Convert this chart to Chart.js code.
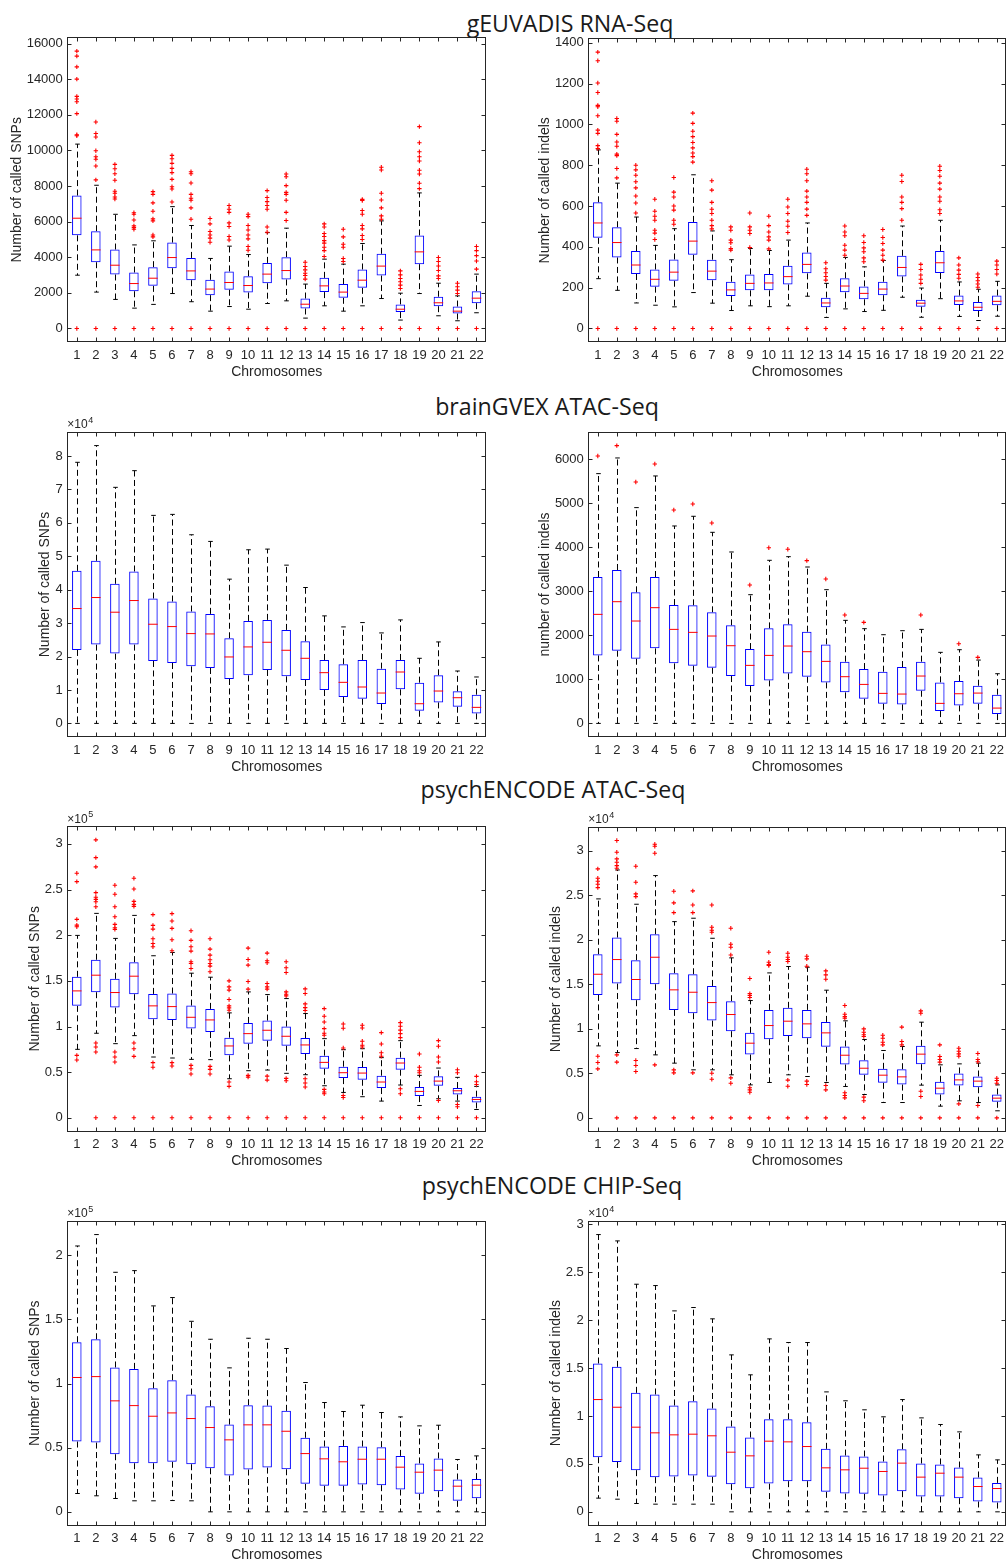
<!DOCTYPE html>
<html>
<head>
<meta charset="utf-8">
<script src="https://cdn.jsdelivr.net/npm/chart.js@4.4.1/dist/chart.umd.min.js"></script>
<style>
    html, body { margin: 0; padding: 0; background: #fff; overflow: hidden; }
    body { position: relative; width: 1006px; height: 1563px; }
    canvas { position: absolute; }
    .row-title {
        position: absolute;
        font-family: 'Open Sans', 'Noto Sans', sans-serif;
        font-size: 23.2px;
        line-height: 23.2px;
        color: #1a1a1a;
        white-space: nowrap;
        transform: translateX(-50%);
    }
</style>
</head>
<body>
<div class="row-title" style="left:570px;top:12px">gEUVADIS RNA-Seq</div>
<div class="row-title" style="left:547px;top:395px">brainGVEX ATAC-Seq</div>
<div class="row-title" style="left:553px;top:777.5px">psychENCODE ATAC-Seq</div>
<div class="row-title" style="left:552px;top:1173.5px">psychENCODE CHIP-Seq</div>

<script>
const CHROMOSOMES = ['1', '2', '3', '4', '5', '6', '7', '8', '9', '10', '11',
    '12', '13', '14', '15', '16', '17', '18', '19', '20', '21', '22'];

// gEUVADIS RNA-Seq, SNPs
const GEU_SNP_LOW = [2990, 2040, 1630, 1140, 1350, 1960, 1500, 970, 1230, 1080, 1400, 1550, 580, 1270, 970, 1270, 1680, 470, 1960, 710, 430, 880];
const GEU_SNP_Q1 = [5230, 3720, 3030, 2090, 2390, 3380, 2710, 1870, 2170, 2020, 2540, 2750, 1120, 2040, 1720, 2280, 2970, 920, 3610, 1250, 840, 1420];
const GEU_SNP_MED = [6190, 4410, 3550, 2520, 2820, 3980, 3230, 2210, 2580, 2410, 3050, 3250, 1360, 2390, 2040, 2710, 3500, 1080, 4300, 1440, 970, 1700];
const GEU_SNP_Q3 = [7460, 5460, 4430, 3140, 3440, 4820, 3960, 2730, 3200, 2930, 3680, 4000, 1680, 2840, 2490, 3310, 4190, 1350, 5220, 1780, 1230, 2090];
const GEU_SNP_HIGH = [10350, 8040, 6410, 4690, 4920, 6840, 5780, 3930, 4620, 4150, 5380, 5630, 2490, 3890, 3610, 4770, 6040, 1980, 7610, 2540, 1830, 3050];
const GEU_SNP_OUT = [
    [15570, 15290, 14690, 14000, 13030, 12880, 12730, 12060, 10880, 10820, 0],
    [11590, 10950, 10750, 9980, 9640, 9500, 9120, 8340, 0],
    [9210, 8970, 8690, 8320, 7700, 7590, 7380, 7270, 0],
    [6500, 6410, 6090, 5760, 5660, 5570, 0],
    [7680, 7530, 7050, 6580, 6150, 6040, 5250, 5140, 0],
    [9720, 9530, 9270, 8990, 8750, 8370, 7960, 7830, 7100, 0],
    [8800, 8690, 8170, 7530, 7310, 7200, 6770, 6130, 0],
    [6170, 5870, 5440, 5250, 5070, 4840, 0],
    [6900, 6690, 6520, 5930, 5720, 5160, 4970, 0],
    [6410, 6280, 5780, 5530, 5250, 5030, 4600, 4390, 0],
    [7740, 7350, 7120, 6900, 6690, 5700, 5400, 0],
    [8670, 8520, 8020, 7640, 7530, 7200, 6520, 6060, 0],
    [3720, 3480, 3290, 3100, 2970, 2770, 0],
    [5870, 5700, 5330, 5160, 4930, 4790, 4560, 4370, 4040, 0],
    [5570, 5140, 4730, 4560, 3930, 3760, 0],
    [7250, 7180, 6620, 6410, 5780, 5590, 5220, 4990, 0],
    [9050, 8900, 7590, 7210, 6770, 6320, 6130, 0],
    [3230, 3010, 2800, 2620, 2430, 2240, 0],
    [11330, 10430, 9920, 9640, 9400, 8880, 8670, 8150, 7850, 0],
    [3980, 3760, 3510, 3250, 2950, 2800, 0],
    [2540, 2340, 2150, 1960, 0],
    [4600, 4370, 4090, 3790, 3330, 0]
];
const GEU_SNP_TICKS = [0, 2000, 4000, 6000, 8000, 10000, 12000, 14000, 16000];
const GEU_SNP_TICK_LABELS = ['0', '2000', '4000', '6000', '8000', '10000', '12000', '14000', '16000'];

// gEUVADIS RNA-Seq, indels
const GEU_INDEL_LOW = [244, 187, 125, 114, 106, 176, 124, 88, 111, 107, 111, 158, 54, 96, 83, 89, 153, 55, 146, 59, 39, 60];
const GEU_INDEL_Q1 = [444, 348, 267, 205, 234, 361, 236, 159, 187, 187, 216, 270, 104, 177, 143, 163, 255, 107, 272, 115, 86, 114];
const GEU_INDEL_MED = [517, 421, 311, 241, 276, 428, 281, 189, 221, 223, 254, 314, 125, 208, 172, 193, 299, 124, 322, 135, 104, 133];
const GEU_INDEL_Q3 = [618, 496, 379, 289, 338, 522, 337, 229, 265, 267, 307, 372, 151, 246, 206, 229, 356, 141, 380, 161, 130, 161];
const GEU_INDEL_HIGH = [875, 712, 546, 407, 489, 753, 478, 337, 392, 382, 433, 517, 221, 348, 302, 333, 502, 198, 530, 228, 192, 231];
const GEU_INDEL_OUT = [
    [1354, 1312, 1203, 1156, 1093, 1086, 1042, 972, 956, 896, 881, 0],
    [1029, 1015, 951, 914, 893, 854, 847, 784, 738, 0],
    [800, 777, 751, 719, 689, 649, 615, 566, 0],
    [633, 574, 550, 530, 481, 467, 436, 0],
    [740, 668, 644, 600, 580, 530, 511, 0],
    [1055, 1005, 966, 940, 911, 885, 860, 842, 815, 0],
    [724, 678, 618, 584, 563, 530, 504, 488, 0],
    [498, 481, 433, 420, 392, 384, 0],
    [566, 498, 481, 465, 397, 0],
    [550, 504, 473, 449, 433, 390, 0],
    [633, 595, 563, 525, 501, 470, 0],
    [780, 758, 724, 673, 644, 618, 585, 554, 0],
    [322, 293, 273, 255, 237, 0],
    [502, 473, 454, 408, 384, 359, 0],
    [454, 421, 395, 376, 346, 327, 0],
    [485, 446, 416, 384, 359, 335, 0],
    [751, 720, 644, 618, 587, 530, 0],
    [314, 289, 262, 241, 221, 0],
    [795, 774, 746, 712, 683, 644, 623, 582, 563, 0],
    [346, 311, 286, 265, 246, 0],
    [267, 250, 234, 218, 202, 0],
    [330, 311, 289, 267, 0]
];
const GEU_INDEL_TICKS = [0, 200, 400, 600, 800, 1000, 1200, 1400];
const GEU_INDEL_TICK_LABELS = ['0', '200', '400', '600', '800', '1000', '1200', '1400'];

// brainGVEX ATAC-Seq, SNPs
const BRAIN_SNP_LOW = [0, 0, 0, 0, 0, 0, 0, 0, 0, 0, 0, 0, 0, 0, 0, 0, 0, 0, 0, 0, 0, 0];
const BRAIN_SNP_Q1 = [21980, 23580, 20880, 23580, 18680, 18080, 17080, 16580, 13290, 14390, 15980, 14090, 12990, 9990, 7890, 7390, 5790, 10190, 3800, 6290, 4990, 3000];
const BRAIN_SNP_MED = [34370, 37660, 33270, 36760, 29670, 28970, 26870, 26770, 19880, 22880, 24280, 21880, 19480, 15180, 12290, 10890, 9090, 15380, 5890, 9690, 7690, 4800];
const BRAIN_SNP_Q3 = [45650, 48650, 41760, 45450, 37360, 36460, 33470, 32770, 25470, 30670, 30970, 27970, 24580, 18980, 17680, 18980, 16380, 18980, 12190, 14390, 9590, 8590];
const BRAIN_SNP_HIGH = [78120, 83120, 70630, 75620, 62240, 62540, 56440, 54450, 43160, 51950, 52150, 47350, 40660, 32170, 28870, 30170, 27070, 30970, 19480, 24380, 15680, 13890];
const BRAIN_SNP_OUT = [[], [], [], [], [], [], [], [], [], [], [], [], [], [], [], [], [], [], [], [], [], []];
const BRAIN_SNP_TICKS = [0, 10000, 20000, 30000, 40000, 50000, 60000, 70000, 80000];
const BRAIN_SNP_TICK_LABELS = ['0', '1', '2', '3', '4', '5', '6', '7', '8'];

// brainGVEX ATAC-Seq, indels
const BRAIN_INDEL_LOW = [0, 0, 0, 0, 0, 0, 0, 0, 0, 0, 0, 0, 0, 0, 0, 0, 0, 0, 0, 0, 0, 0];
const BRAIN_INDEL_Q1 = [1545, 1652, 1470, 1705, 1364, 1311, 1265, 1076, 848, 977, 1136, 1061, 932, 705, 561, 447, 432, 742, 280, 409, 447, 212];
const BRAIN_INDEL_MED = [2477, 2765, 2326, 2629, 2136, 2068, 1985, 1765, 1318, 1545, 1758, 1629, 1409, 1061, 886, 682, 667, 1076, 455, 674, 689, 348];
const BRAIN_INDEL_Q3 = [3326, 3485, 2977, 3326, 2689, 2682, 2523, 2227, 1689, 2159, 2250, 2083, 1795, 1402, 1235, 1174, 1280, 1402, 932, 962, 856, 652];
const BRAIN_INDEL_HIGH = [5674, 6030, 4902, 5621, 4485, 4705, 4341, 3894, 2924, 3705, 3788, 3553, 3038, 2341, 2152, 2015, 2106, 2136, 1614, 1674, 1439, 1129];
const BRAIN_INDEL_OUT = [[6076], [6311], [5485], [5894], [4849], [4985], [4553], [], [3144], [3992], [3955], [3697], [3280], [2462], [2295], [], [], [2462], [], [1811], [1500], []];
const BRAIN_INDEL_TICKS = [0, 1000, 2000, 3000, 4000, 5000, 6000];
const BRAIN_INDEL_TICK_LABELS = ['0', '1000', '2000', '3000', '4000', '5000', '6000'];

// psychENCODE ATAC-Seq, SNPs
const PE_ATAC_SNP_LOW = [75000, 92600, 81200, 90000, 66600, 65500, 64000, 63700, 42800, 51600, 52300, 48700, 47200, 35100, 27800, 23100, 18300, 35900, 13500, 20900, 18300, 9100];
const PE_ATAC_SNP_Q1 = [122600, 137600, 120700, 135400, 107900, 107200, 97700, 94000, 68400, 81200, 84500, 79000, 69900, 53800, 43500, 41700, 32600, 52700, 23800, 35100, 25600, 16800];
const PE_ATAC_SNP_MED = [139000, 156200, 137200, 155100, 122600, 121800, 110100, 107200, 78700, 92200, 95900, 89300, 79800, 60700, 49400, 49000, 39200, 60000, 28900, 40200, 29600, 20100];
const PE_ATAC_SNP_Q3 = [154400, 173100, 152200, 170500, 135700, 136100, 122900, 119300, 87800, 103900, 106500, 99900, 87400, 68100, 56000, 55600, 46100, 65900, 33700, 45400, 32600, 23100];
const PE_ATAC_SNP_HIGH = [199800, 223900, 196500, 221700, 177500, 181100, 158400, 154000, 114900, 137900, 135000, 130600, 114200, 86700, 74600, 75700, 65900, 84500, 46500, 54500, 44300, 34400];
const PE_ATAC_SNP_OUT = [
    [267800, 258700, 217300, 211100, 209300, 68400, 63300],
    [304400, 285000, 274800, 246600, 241500, 239300, 236700, 231200, 82000, 77600, 72100, 0],
    [254700, 244800, 231200, 220300, 211900, 208200, 206400, 72100, 66600, 61100, 0],
    [262400, 250600, 237100, 233800, 231600, 82000, 75700, 67300, 0],
    [222500, 210800, 206700, 196100, 191000, 187300, 60400, 55300, 0],
    [223600, 215500, 207500, 195000, 183000, 60400, 56700, 0],
    [204900, 194300, 187300, 182600, 170900, 169000, 163600, 57400, 53800, 48000, 0],
    [196100, 184800, 178200, 173100, 169000, 166100, 159900, 56300, 53100, 48000, 0],
    [150000, 143400, 139800, 129500, 122600, 120400, 117800, 39200, 34400, 0],
    [185900, 173400, 167200, 149300, 140900, 46500, 44600, 0],
    [180400, 172000, 169800, 147100, 143400, 140900, 45700, 41300, 0],
    [170900, 164300, 159200, 137900, 135400, 133600, 43200, 40600, 0],
    [141200, 136100, 124800, 120700, 117500, 42800, 38100, 33700, 0],
    [119600, 111200, 105000, 97700, 92600, 90400, 31100, 28200, 26300, 0],
    [102800, 98100, 76500, 24500, 22300, 0],
    [101400, 98400, 83800, 79400, 77600, 0],
    [93300, 80900, 71300, 67500, 0],
    [104300, 100300, 96000, 92200, 87800, 31800, 26300, 0],
    [69900, 55300, 51600, 49400, 0],
    [84500, 78300, 66600, 61100, 19000, 0],
    [52700, 49400, 14600, 12100, 0],
    [45400, 39500, 36500, 0]
];
const PE_ATAC_SNP_TICKS = [0, 50000, 100000, 150000, 200000, 250000, 300000];
const PE_ATAC_SNP_TICK_LABELS = ['0', '0.5', '1', '1.5', '2', '2.5', '3'];

// psychENCODE ATAC-Seq, indels
const PE_ATAC_INDEL_LOW = [8080, 7330, 7780, 7070, 6140, 5390, 5390, 4830, 3700, 3970, 4830, 4640, 3970, 3520, 2620, 1720, 1720, 3670, 1310, 1910, 1720, 790];
const PE_ATAC_INDEL_Q1 = [13800, 15080, 13210, 15000, 12120, 11750, 10920, 9730, 7110, 8830, 9200, 8940, 7970, 5990, 4830, 3930, 3740, 6020, 2620, 3630, 3440, 1800];
const PE_ATAC_INDEL_MED = [16120, 17770, 15530, 18030, 14370, 14100, 12940, 11600, 8380, 10360, 10850, 10550, 9540, 7030, 5570, 4790, 4600, 7150, 3330, 4260, 4120, 2210];
const PE_ATAC_INDEL_Q3 = [18370, 20240, 17700, 20610, 16240, 16120, 14810, 13090, 9540, 12120, 12350, 12120, 10770, 8010, 6470, 5500, 5460, 8080, 4040, 4980, 4640, 2620];
const PE_ATAC_INDEL_HIGH = [24580, 27830, 23980, 27200, 22030, 22410, 20160, 17960, 13170, 16270, 16990, 16910, 14330, 10890, 8790, 7560, 8010, 10740, 5950, 6060, 6140, 3700];
const PE_ATAC_INDEL_OUT = [
    [27950, 26900, 26560, 26220, 25850, 6920, 6210, 5500],
    [31130, 29820, 29070, 28690, 28320, 28020, 7070, 6250, 0],
    [28250, 26450, 25140, 24840, 6430, 5870, 5200, 0],
    [30710, 30490, 29700, 5950, 0],
    [25440, 24130, 23040, 5390, 5050, 0],
    [25480, 23900, 23040, 5050, 0],
    [23900, 21400, 21060, 20840, 5010, 4340, 0],
    [21290, 19490, 19150, 18290, 4490, 3890, 0],
    [15640, 13950, 13730, 13510, 3370, 3140, 2880, 0],
    [18590, 17470, 17210, 17100, 0],
    [18480, 18030, 17770, 17550, 4230, 3550, 0],
    [18140, 17850, 17020, 4120, 3740, 0],
    [16500, 16050, 15560, 3630, 3140, 0],
    [12610, 11630, 11370, 11190, 2810, 2510, 2240, 0],
    [9990, 9610, 9320, 9130, 2320, 1910, 0],
    [9280, 8940, 8490, 8190, 0],
    [10180, 8570, 8190, 0],
    [12010, 11750, 2990, 2390, 0],
    [8190, 6880, 6550, 6250, 0],
    [7820, 7480, 7180, 6920, 1570, 0],
    [7220, 6550, 6290, 1380, 0],
    [4450, 4190, 3890, 0]
];
const PE_ATAC_INDEL_TICKS = [0, 5000, 10000, 15000, 20000, 25000, 30000];
const PE_ATAC_INDEL_TICK_LABELS = ['0', '0.5', '1', '1.5', '2', '2.5', '3'];

// psychENCODE CHIP-Seq, SNPs
const PE_CHIP_SNP_LOW = [14300, 12500, 10400, 8600, 8600, 8800, 8600, 0, 0, 0, 0, 0, 0, 0, 0, 0, 0, 0, 0, 0, 0, 0];
const PE_CHIP_SNP_Q1 = [54800, 54000, 44900, 37900, 37900, 39000, 37100, 34000, 28300, 33000, 34500, 33200, 21800, 20300, 20300, 21300, 20800, 17400, 14000, 16100, 8600, 10600];
const PE_CHIP_SNP_MED = [104700, 105400, 86500, 82800, 74500, 77100, 72700, 65700, 56100, 67800, 67800, 62800, 45400, 41300, 39000, 41000, 41000, 34800, 30900, 32500, 20000, 20800];
const PE_CHIP_SNP_Q3 = [132200, 134500, 112500, 111400, 96300, 102600, 91400, 82300, 68000, 83100, 82800, 78700, 57700, 50900, 51400, 50900, 50400, 43600, 37700, 41600, 25200, 25500];
const PE_CHIP_SNP_HIGH = [207200, 216100, 186700, 188000, 160500, 167000, 148500, 134500, 112200, 135300, 134500, 127300, 100800, 85200, 78200, 83100, 77400, 74000, 67000, 67500, 40800, 43600];
const PE_CHIP_SNP_OUT = [[], [], [], [], [], [], [], [], [], [], [], [], [], [], [], [], [], [], [], [], [], []];
const PE_CHIP_SNP_TICKS = [0, 50000, 100000, 150000, 200000];
const PE_CHIP_SNP_TICK_LABELS = ['0', '0.5', '1', '1.5', '2'];

// psychENCODE CHIP-Seq, indels
const PE_CHIP_INDEL_LOW = [1430, 1320, 870, 800, 800, 800, 800, 0, 0, 0, 0, 0, 0, 0, 0, 0, 0, 0, 0, 0, 0, 0];
const PE_CHIP_INDEL_Q1 = [5700, 5210, 4350, 3620, 3680, 3790, 3650, 2890, 2470, 2950, 3200, 3200, 2090, 1910, 1880, 1700, 2160, 1600, 1600, 1430, 1080, 970];
const PE_CHIP_INDEL_MED = [11710, 10910, 8830, 8240, 8030, 8100, 7930, 6220, 5840, 7370, 7300, 6810, 4590, 4380, 4550, 4210, 5080, 3620, 4030, 3620, 2640, 2430];
const PE_CHIP_INDEL_Q3 = [15470, 15120, 12410, 12240, 11090, 11540, 10780, 8900, 7750, 9660, 9660, 9350, 6570, 5870, 5770, 5250, 6530, 5040, 4940, 4620, 3580, 3020];
const PE_CHIP_INDEL_HIGH = [28920, 28260, 23740, 23600, 20960, 21310, 20130, 16370, 14290, 18040, 17660, 17660, 12510, 11580, 10640, 9910, 11710, 9800, 9110, 8340, 5940, 5420];
const PE_CHIP_INDEL_OUT = [[], [], [], [], [], [], [], [], [], [], [], [], [], [], [], [], [], [], [], [], [], []];
const PE_CHIP_INDEL_TICKS = [0, 5000, 10000, 15000, 20000, 25000, 30000];
const PE_CHIP_INDEL_TICK_LABELS = ['0', '0.5', '1', '1.5', '2', '2.5', '3'];


const FONT = "'Liberation Sans', Arial, Helvetica, sans-serif";
const AXIS_COLOR = '#262626';

// one entry per subplot: data arrays + where its axes box sits on the page
const PANELS = [
    {low: GEU_SNP_LOW, q1: GEU_SNP_Q1, med: GEU_SNP_MED, q3: GEU_SNP_Q3, high: GEU_SNP_HIGH, out: GEU_SNP_OUT,
     ticks: GEU_SNP_TICKS, tickLabels: GEU_SNP_TICK_LABELS, exponent: null,
     yTitle: 'Number of called SNPs', titleX: 17.3, canvasX: 0, area: [67.3, 37.3, 486, 342.3]},
    {low: GEU_INDEL_LOW, q1: GEU_INDEL_Q1, med: GEU_INDEL_MED, q3: GEU_INDEL_Q3, high: GEU_INDEL_HIGH, out: GEU_INDEL_OUT,
     ticks: GEU_INDEL_TICKS, tickLabels: GEU_INDEL_TICK_LABELS, exponent: null,
     yTitle: 'Number of called indels', titleX: 545.3, canvasX: 500, area: [588.3, 38.3, 1006.3, 342.3]},
    {low: BRAIN_SNP_LOW, q1: BRAIN_SNP_Q1, med: BRAIN_SNP_MED, q3: BRAIN_SNP_Q3, high: BRAIN_SNP_HIGH, out: BRAIN_SNP_OUT,
     ticks: BRAIN_SNP_TICKS, tickLabels: BRAIN_SNP_TICK_LABELS, exponent: '4',
     yTitle: 'Number of called SNPs', titleX: 45, canvasX: 0, area: [67.3, 431.7, 486, 737.3]},
    {low: BRAIN_INDEL_LOW, q1: BRAIN_INDEL_Q1, med: BRAIN_INDEL_MED, q3: BRAIN_INDEL_Q3, high: BRAIN_INDEL_HIGH, out: BRAIN_INDEL_OUT,
     ticks: BRAIN_INDEL_TICKS, tickLabels: BRAIN_INDEL_TICK_LABELS, exponent: null,
     yTitle: 'number of called indels', titleX: 545.3, canvasX: 500, area: [588.3, 431.7, 1006.3, 737.3]},
    {low: PE_ATAC_SNP_LOW, q1: PE_ATAC_SNP_Q1, med: PE_ATAC_SNP_MED, q3: PE_ATAC_SNP_Q3, high: PE_ATAC_SNP_HIGH, out: PE_ATAC_SNP_OUT,
     ticks: PE_ATAC_SNP_TICKS, tickLabels: PE_ATAC_SNP_TICK_LABELS, exponent: '5',
     yTitle: 'Number of called SNPs', titleX: 35, canvasX: 0, area: [67.3, 826, 486, 1131.7]},
    {low: PE_ATAC_INDEL_LOW, q1: PE_ATAC_INDEL_Q1, med: PE_ATAC_INDEL_MED, q3: PE_ATAC_INDEL_Q3, high: PE_ATAC_INDEL_HIGH, out: PE_ATAC_INDEL_OUT,
     ticks: PE_ATAC_INDEL_TICKS, tickLabels: PE_ATAC_INDEL_TICK_LABELS, exponent: '4',
     yTitle: 'Number of called indels', titleX: 556, canvasX: 500, area: [588.3, 826.7, 1006.3, 1131.7]},
    {low: PE_CHIP_SNP_LOW, q1: PE_CHIP_SNP_Q1, med: PE_CHIP_SNP_MED, q3: PE_CHIP_SNP_Q3, high: PE_CHIP_SNP_HIGH, out: PE_CHIP_SNP_OUT,
     ticks: PE_CHIP_SNP_TICKS, tickLabels: PE_CHIP_SNP_TICK_LABELS, exponent: '5',
     yTitle: 'Number of called SNPs', titleX: 35, canvasX: 0, area: [67.3, 1220.7, 486, 1525.7]},
    {low: PE_CHIP_INDEL_LOW, q1: PE_CHIP_INDEL_Q1, med: PE_CHIP_INDEL_MED, q3: PE_CHIP_INDEL_Q3, high: PE_CHIP_INDEL_HIGH, out: PE_CHIP_INDEL_OUT,
     ticks: PE_CHIP_INDEL_TICKS, tickLabels: PE_CHIP_INDEL_TICK_LABELS, exponent: '4',
     yTitle: 'Number of called indels', titleX: 556, canvasX: 500, area: [588.3, 1220.7, 1006.3, 1525.7]}
];


function strokeLine(ctx, x1, y1, x2, y2) {
    ctx.beginPath();
    ctx.moveTo(x1, y1);
    ctx.lineTo(x2, y2);
    ctx.stroke();
}

// whiskers, medians, axes box with inward ticks, x10^n label
function boxplotParts(p) {
    return {
        id: 'boxplotParts',
        beforeDatasetsDraw(chart) {
            const {ctx, scales: {x, y}} = chart;
            const step = x.getPixelForValue(1) - x.getPixelForValue(0);
            const capHalf = step * 0.12;
            ctx.save();
            ctx.strokeStyle = '#000';
            ctx.lineWidth = 1;
            p.high.forEach((hi, i) => {
                const px = Math.round(x.getPixelForValue(i)) + 0.5;
                const yHi = y.getPixelForValue(hi);
                const yLo = y.getPixelForValue(p.low[i]);
                ctx.setLineDash([6, 3.5]);
                strokeLine(ctx, px, y.getPixelForValue(p.q3[i]), px, yHi);
                strokeLine(ctx, px, y.getPixelForValue(p.q1[i]), px, yLo);
                ctx.setLineDash([]);
                strokeLine(ctx, px - capHalf, yHi, px + capHalf, yHi);
                strokeLine(ctx, px - capHalf, yLo, px + capHalf, yLo);
            });
            ctx.restore();
        },
        afterDatasetsDraw(chart) {
            const {ctx, chartArea: a, scales: {x, y}} = chart;
            const step = x.getPixelForValue(1) - x.getPixelForValue(0);
            ctx.save();
            // medians
            ctx.strokeStyle = '#ff0000';
            ctx.lineWidth = 1;
            p.med.forEach((m, i) => {
                const px = x.getPixelForValue(i);
                const py = y.getPixelForValue(m);
                strokeLine(ctx, px - step * 0.25, py, px + step * 0.25, py);
            });
            // axes box
            const l = Math.round(a.left) + 0.5, r = Math.round(a.right) - 0.5;
            const t = Math.round(a.top) + 0.5, b = Math.round(a.bottom) - 0.5;
            ctx.strokeStyle = AXIS_COLOR;
            ctx.strokeRect(l, t, r - l, b - t);
            const tl = 4;
            y.ticks.forEach((tk) => {
                const py = Math.round(y.getPixelForValue(tk.value)) + 0.5;
                strokeLine(ctx, l, py, l + tl, py);
                strokeLine(ctx, r, py, r - tl, py);
            });
            CHROMOSOMES.forEach((c, i) => {
                const px = Math.round(x.getPixelForValue(i)) + 0.5;
                strokeLine(ctx, px, b, px, b - tl);
                strokeLine(ctx, px, t, px, t + tl);
            });
            // exponent label
            if (p.exponent) {
                ctx.fillStyle = AXIS_COLOR;
                ctx.font = `12px ${FONT}`;
                ctx.textBaseline = 'alphabetic';
                ctx.textAlign = 'left';
                ctx.fillText('\u00d710', a.left, a.top - 3.5);
                const w = ctx.measureText('\u00d710').width;
                ctx.font = `9px ${FONT}`;
                ctx.fillText(p.exponent, a.left + w + 0.5, a.top - 9);
            }
            ctx.restore();
        }
    };
}


function makeChart(p) {
    const [aL, aT, aR, aB] = p.area;
    const cx = p.canvasX;
    const cw = cx === 0 ? 500 : 520;
    const cy = Math.floor(aT - 30);
    const ch = Math.ceil(aB + 46 - cy);

    const canvas = document.createElement('canvas');
    canvas.width = cw;
    canvas.height = ch;
    canvas.style.left = cx + 'px';
    canvas.style.top = cy + 'px';
    canvas.style.width = cw + 'px';
    canvas.style.height = ch + 'px';
    document.body.appendChild(canvas);

    const outlierPoints = [];
    p.out.forEach((list, i) => {
        list.forEach((v) => outlierPoints.push({x: CHROMOSOMES[i], y: v}));
    });
    // MATLAB style limits: data range padded by 5% each side
    const allVals = p.low.concat(p.high, p.out.flat());
    const vMin = Math.min(...allVals);
    const vMax = Math.max(...allVals);
    const pad = (vMax - vMin) * 0.05;

    return new Chart(canvas, {
        type: 'bar',
        data: {
            labels: CHROMOSOMES,
            datasets: [
                {
                    type: 'bar',
                    data: p.q1.map((q, i) => [q, p.q3[i]]),
                    backgroundColor: 'rgba(0,0,0,0)',
                    borderColor: '#0000ff',
                    borderWidth: 1,
                    borderSkipped: false,
                    barPercentage: 0.5,
                    categoryPercentage: 1,
                    order: 2
                },
                {
                    type: 'line',
                    data: outlierPoints,
                    showLine: false,
                    pointStyle: 'cross',
                    pointRadius: 2.2,
                    pointBorderWidth: 1.1,
                    pointBorderColor: '#ff0000',
                    pointBackgroundColor: '#ff0000',
                    order: 1
                }
            ]
        },
        options: {
            responsive: false,
            animation: false,
            devicePixelRatio: 1,
            events: [],
            layout: {
                padding: {left: 0, top: aT - cy, right: cx + cw - aR, bottom: 0}
            },
            plugins: {
                legend: {display: false},
                tooltip: {enabled: false}
            },
            scales: {
                x: {
                    type: 'category',
                    offset: true,
                    grid: {display: false, drawTicks: false},
                    border: {display: false},
                    ticks: {
                        color: AXIS_COLOR,
                        font: {family: FONT, size: 13},
                        padding: 5,
                        autoSkip: false,
                        maxRotation: 0
                    },
                    title: {
                        display: true,
                        text: 'Chromosomes',
                        color: AXIS_COLOR,
                        font: {family: FONT, size: 14},
                        padding: {top: 0, bottom: 8.2}
                    },
                    afterFit: (s) => { s.height = ch - (aB - cy); }
                },
                y: {
                    type: 'linear',
                    min: vMin - pad,
                    max: vMax + pad,
                    grid: {display: false, drawTicks: false},
                    border: {display: false},
                    afterBuildTicks: (s) => { s.ticks = p.ticks.map((v) => ({value: v})); },
                    ticks: {
                        color: AXIS_COLOR,
                        font: {family: FONT, size: 13},
                        padding: 4.5,
                        autoSkip: false,
                        callback: (v, i) => p.tickLabels[i]
                    },
                    title: {
                        display: true,
                        text: p.yTitle,
                        color: AXIS_COLOR,
                        font: {family: FONT, size: 14},
                        padding: {top: p.titleX - cx - 8.4, bottom: 0}
                    },
                    afterFit: (s) => { s.width = aL - cx; }
                }
            }
        },
        plugins: [boxplotParts(p)]
    });
}

PANELS.forEach(makeChart);
</script>
</body>
</html>
